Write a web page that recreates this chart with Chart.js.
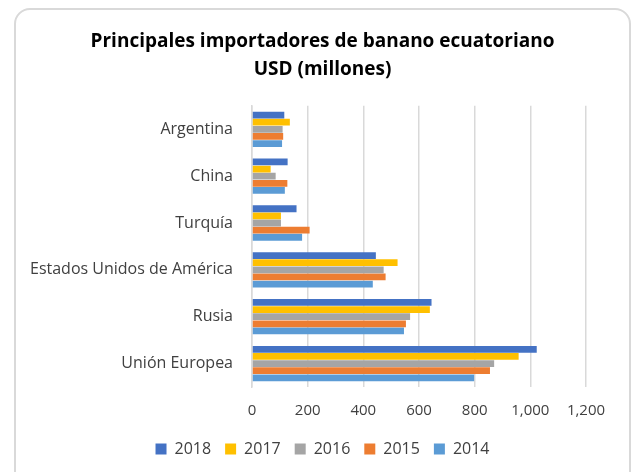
<!DOCTYPE html>
<html>
<head>
<meta charset="utf-8">
<script src="https://cdn.jsdelivr.net/npm/chart.js@4"></script>
<style>
  html, body { margin: 0; padding: 0; background: #fff; }
  #wrap { position: relative; width: 635px; height: 472px; overflow: hidden; }
  #frame { position: absolute; left: 14px; top: 8px; width: 617px; height: 480px;
           border: 2px solid #d9d9d9; border-radius: 16px; box-sizing: border-box; pointer-events: none; }
  canvas { position: absolute; left: 0; top: 0; }
</style>
</head>
<body>
<div id="wrap">
  <canvas id="c" width="635" height="472"></canvas>
  <div id="frame"></div>
</div>
<script>
const categories = ["Argentina", "China", "Turquía", "Estados Unidos de América", "Rusia", "Unión Europea"];
const seriesNames = ["2018", "2017", "2016", "2015", "2014"];
const v2018 = [116, 128, 160, 445, 645, 1023];
const v2017 = [136, 67, 104, 523, 639, 958];
const v2016 = [110, 85, 104, 473, 568, 870];
const v2015 = [112, 127, 207, 480, 553, 855];
const v2014 = [108, 118, 180, 434, 546, 798];
const colors = ["#4472C4", "#FFC000", "#A5A5A5", "#ED7D31", "#5B9BD5"];
const values = [v2018, v2017, v2016, v2015, v2014];

const FONT = "'Open Sans', sans-serif";

new Chart(document.getElementById("c"), {
  type: "bar",
  data: {
    labels: categories,
    datasets: seriesNames.map((n, i) => ({
      label: n,
      data: values[i],
      backgroundColor: colors[i],
      borderWidth: 0,
      barPercentage: 0.95,
      categoryPercentage: 0.76
    }))
  },
  options: {
    indexAxis: "y",
    responsive: false,
    animation: false,
    layout: { padding: { left: 10, right: 0, top: 0, bottom: 5 } },
    plugins: {
      title: {
        display: true,
        text: ["Principales importadores de banano ecuatoriano", "USD (millones)"],
        color: "#000",
        font: { family: FONT, size: 19, weight: "bold", lineHeight: 1.47 },
        padding: { top: 28, bottom: 22 }
      },
      legend: {
        position: "bottom",
        labels: {
          color: "#404040",
          font: { family: FONT, size: 16 },
          boxWidth: 11,
          boxHeight: 11,
          padding: 14
        }
      },
      tooltip: { enabled: false }
    },
    scales: {
      x: {
        min: 0,
        max: 1200,
        ticks: {
          stepSize: 200,
          color: "#404040",
          font: { family: FONT, size: 15 },
          padding: 15,
          callback: (v) => v.toLocaleString("en-US")
        },
        grid: { color: "#d9d9d9", lineWidth: 1.5, drawTicks: false },
        border: { display: false },
        afterFit: (s) => { s.height = 40; }
      },
      y: {
        ticks: {
          color: "#404040",
          font: { family: FONT, size: 16 },
          padding: 19
        },
        grid: { display: false, drawTicks: false },
        border: { display: true, color: "#d9d9d9", width: 1.5 },
        afterFit: (s) => { s.width = 242; }
      },
      yr: {
        position: "right",
        display: true,
        ticks: { display: false },
        grid: { display: false, drawTicks: false },
        border: { display: false },
        afterFit: (s) => { s.width = 49; }
      }
    }
  }
});
</script>
</body>
</html>
